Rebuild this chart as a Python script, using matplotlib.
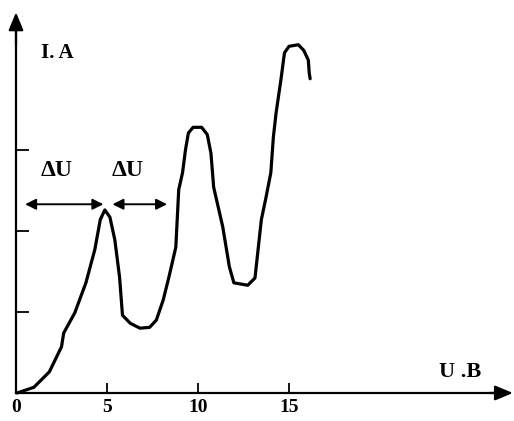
import matplotlib
matplotlib.use("Agg")
import matplotlib.pyplot as plt

# anode current vs accelerating voltage
u_vals = [0.06, 0.98, 1.83, 2.50, 2.62, 3.23, 3.84, 4.33, 4.63, 4.88,
          5.16, 5.43, 5.69, 5.85, 6.28, 6.81, 7.34, 7.71, 8.09, 8.40,
          8.78, 8.94, 9.15, 9.31, 9.47, 9.73, 10.20, 10.51, 10.71, 10.86,
          11.36, 11.72, 11.97, 12.73, 13.13, 13.28, 13.48, 13.74, 14.00, 14.14,
          14.29, 14.55, 14.75, 15.00, 15.51, 15.81, 16.06, 16.11, 16.16]
i_vals = [0.00, 0.07, 0.26, 0.57, 0.74, 0.99, 1.36, 1.77, 2.14, 2.26,
          2.17, 1.89, 1.43, 0.96, 0.86, 0.80, 0.81, 0.90, 1.15, 1.43,
          1.80, 2.51, 2.72, 3.00, 3.21, 3.28, 3.28, 3.19, 2.96, 2.54,
          2.05, 1.56, 1.36, 1.33, 1.42, 1.73, 2.14, 2.42, 2.72, 3.16,
          3.46, 3.86, 4.20, 4.28, 4.30, 4.23, 4.11, 3.95, 3.88]

x_ticks = [0, 5, 10, 15]
x_labels = ["0", "5", "10", "15"]
y_ticks = [1, 2, 3]

# delta U spans
du_spans = [(0.5, 4.8), (5.3, 8.3)]

font = dict(family="Liberation Serif", weight="bold")

fig = plt.figure(figsize=(5.14, 4.21), dpi=100)
ax = fig.add_axes([0, 0, 1, 1])
ax.set_xlim(-0.879, 27.36)
ax.set_ylim(-0.346, 4.852)

ax.plot(u_vals, i_vals, color="black", lw=2.3,
        solid_capstyle="round", solid_joinstyle="round")

for s in ["top", "right"]:
    ax.spines[s].set_visible(False)
ax.spines["left"].set_position(("data", 0))
ax.spines["bottom"].set_position(("data", 0))
ax.spines["left"].set_bounds(0, 4.5)
ax.spines["bottom"].set_bounds(0, 26.5)
ax.spines["left"].set_linewidth(1.6)
ax.spines["bottom"].set_linewidth(1.6)

# axis arrow heads
ax.annotate("", xy=(27.3, 0), xytext=(26.0, 0),
            arrowprops=dict(arrowstyle="-|>,head_length=0.6,head_width=0.25",
                            color="black", lw=1.6,
                            mutation_scale=18, shrinkA=0, shrinkB=0))
ax.annotate("", xy=(0, 4.7), xytext=(0, 4.3),
            arrowprops=dict(arrowstyle="-|>,head_length=0.6,head_width=0.25",
                            color="black", lw=1.6,
                            mutation_scale=18, shrinkA=0, shrinkB=0))

ax.set_xticks(x_ticks)
ax.set_xticklabels(x_labels, fontsize=14, **font)
ax.set_yticks(y_ticks)
ax.set_yticklabels([])
ax.tick_params(axis="x", direction="in", length=7, width=1.3, pad=4)
ax.tick_params(axis="y", direction="in", length=9, width=1.3)

for a, b in du_spans:
    ax.annotate("", xy=(a, 2.33), xytext=(b, 2.33),
                arrowprops=dict(arrowstyle="<|-|>", color="black", lw=1.4,
                                mutation_scale=16, shrinkA=0, shrinkB=0))

ax.text(2.25, 2.75, "ΔU", fontsize=17, ha="center", va="center", **font)
ax.text(6.15, 2.75, "ΔU", fontsize=17, ha="center", va="center", **font)
ax.text(2.25, 4.2, "I. A", fontsize=15, ha="center", va="center", **font)
ax.text(24.4, 0.26, "U .B", fontsize=16, ha="center", va="center", **font)

fig.savefig("out.png", dpi=100)
